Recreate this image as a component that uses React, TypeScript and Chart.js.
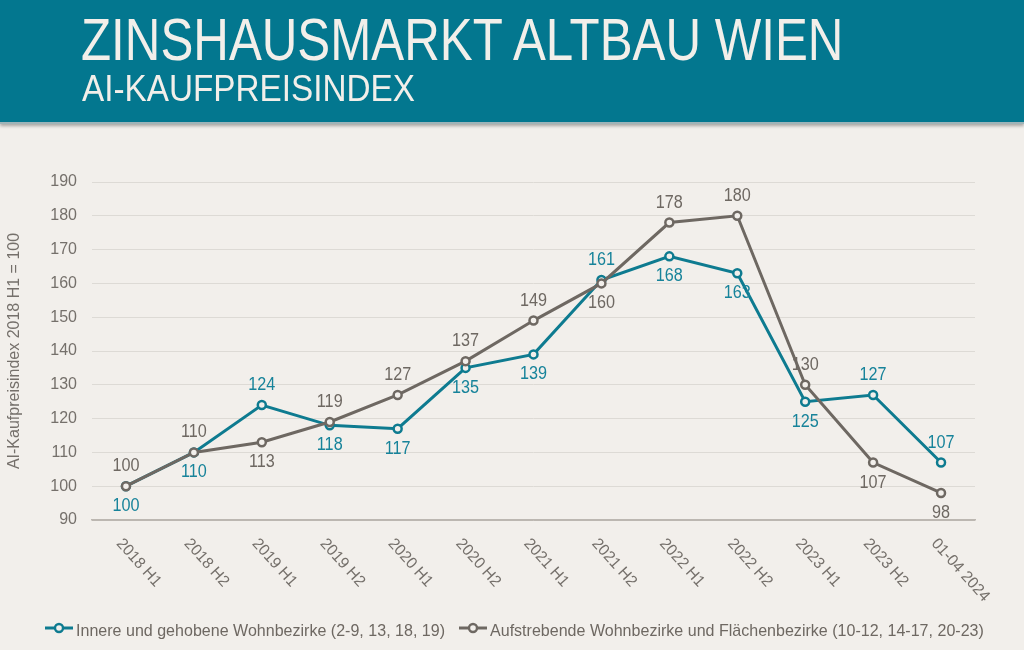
import React, { useEffect, useRef } from "react";
import { Chart, registerables } from "chart.js";

Chart.register(...registerables);

const categories = [
  "2018 H1", "2018 H2", "2019 H1", "2019 H2", "2020 H1", "2020 H2", "2021 H1",
  "2021 H2", "2022 H1", "2022 H2", "2023 H1", "2023 H2", "01-04 2024",
];
const innereValues = [100, 110, 124, 118, 117, 135, 139, 161, 168, 163, 125, 127, 107];
const aufstrebendeValues = [100, 110, 113, 119, 127, 137, 149, 160, 178, 180, 130, 107, 98];
const innereLabelSide = ["below", "below", "above", "below", "below", "below", "below", "above", "below", "below", "below", "above", "above"];
const aufstrebendeLabelSide = ["above", "above", "below", "above", "above", "above", "above", "below", "above", "above", "above", "below", "below"];
const seriesNames = [
  "Innere und gehobene Wohnbezirke (2-9, 13, 18, 19)",
  "Aufstrebende Wohnbezirke und Flächenbezirke (10-12, 14-17, 20-23)",
];
const yMin = 90;
const yMax = 190;
const yStep = 10;
const yTitle = "AI-Kaufpreisindex 2018 H1 = 100";
const title = "ZINSHAUSMARKT ALTBAU WIEN";
const subtitle = "AI-KAUFPREISINDEX";

const FAMILY = '"Liberation Sans", Arial, sans-serif';
const TEAL = "#0e7b90";
const TEAL_TEXT = "#17839a";
const GRAY = "#6e6862";
const BG = "#f2efeb";
const TEXT = "#75706b";

function measure(text: string, font: string) {
  const c = document.createElement("canvas").getContext("2d")!;
  c.font = font;
  return c.measureText(text).width;
}

function drawText(
  ctx: CanvasRenderingContext2D,
  text: string,
  x: number,
  y: number,
  size: number,
  color: string,
  align: CanvasTextAlign,
  scaleX = 1,
  rotate = 0
) {
  ctx.save();
  ctx.translate(x, y);
  if (rotate) ctx.rotate(rotate);
  ctx.scale(scaleX, 1);
  ctx.font = `${size}px ${FAMILY}`;
  ctx.fillStyle = color;
  ctx.textAlign = align;
  ctx.textBaseline = "middle";
  ctx.fillText(text, 0, 0);
  ctx.restore();
}

const valueLabelsPlugin = {
  id: "valueLabels",
  afterDatasetsDraw(chart: any) {
    const ctx = chart.ctx;
    chart.data.datasets.forEach((ds: any, d: number) => {
      const meta = chart.getDatasetMeta(d);
      const sides = ds.labelSides as string[];
      meta.data.forEach((pt: any, i: number) => {
        const dy = sides[i] === "above" ? -20 : 20;
        drawText(ctx, String(ds.data[i]), pt.x, pt.y + dy, 18, ds.labelColor, "center", 0.9);
      });
    });
  },
};

const xLabelsPlugin = {
  id: "xLabels",
  afterDraw(chart: any) {
    const ctx = chart.ctx;
    const xs = chart.scales.x;
    (chart.data.labels as string[]).forEach((lab, i) => {
      const x = xs.getPixelForValue(i);
      drawText(ctx, lab, x - 7, xs.top + 21, 16, TEXT, "left", 0.97, (48 * Math.PI) / 180);
    });
  },
};

const legendPlugin = {
  id: "customLegend",
  afterDraw(chart: any) {
    const ctx: CanvasRenderingContext2D = chart.ctx;
    const font = `17px ${FAMILY}`;
    ctx.save();
    ctx.font = font;
    const sx = 369 / ctx.measureText(chart.data.datasets[0].label).width;
    ctx.restore();
    let x = 45;
    const y = 629;
    chart.data.datasets.forEach((ds: any) => {
      ctx.save();
      ctx.strokeStyle = ds.borderColor;
      ctx.lineWidth = 3;
      ctx.beginPath();
      ctx.moveTo(x, y - 1);
      ctx.lineTo(x + 28, y - 1);
      ctx.stroke();
      ctx.beginPath();
      ctx.arc(x + 14, y - 1, 4, 0, Math.PI * 2);
      ctx.fillStyle = BG;
      ctx.fill();
      ctx.lineWidth = 2.4;
      ctx.stroke();
      ctx.font = font;
      const w = ctx.measureText(ds.label).width * sx;
      ctx.restore();
      drawText(ctx, ds.label, x + 31, y + 2, 17, GRAY, "left", sx);
      x += 31 + w + 14;
    });
  },
};

function FitText(props: { text: string; size: number; width: number; left: number; top: number }) {
  const font = `${props.size}px ${FAMILY}`;
  const sx = props.width / measure(props.text, font);
  return (
    <div
      style={{
        position: "absolute",
        left: props.left,
        top: props.top,
        fontFamily: FAMILY,
        fontSize: props.size,
        lineHeight: `${props.size}px`,
        color: "#f2efea",
        whiteSpace: "nowrap",
        transform: `scaleX(${sx})`,
        transformOrigin: "left top",
      }}
    >
      {props.text}
    </div>
  );
}

export default function App() {
  const ref = useRef<HTMLCanvasElement | null>(null);
  useEffect(() => {
    if (!ref.current) return;
    const chart = new Chart(ref.current, {
      type: "line",
      data: {
        labels: categories,
        datasets: [
          {
            label: seriesNames[0],
            data: innereValues,
            borderColor: TEAL,
            backgroundColor: BG,
            borderWidth: 3,
            pointRadius: 4,
            pointBorderWidth: 2.5,
            pointBackgroundColor: BG,
            order: 1,
            labelSides: innereLabelSide,
            labelColor: TEAL_TEXT,
          } as any,
          {
            label: seriesNames[1],
            data: aufstrebendeValues,
            borderColor: GRAY,
            backgroundColor: BG,
            borderWidth: 3,
            pointRadius: 4,
            pointBorderWidth: 2.5,
            pointBackgroundColor: BG,
            order: 0,
            labelSides: aufstrebendeLabelSide,
            labelColor: GRAY,
          } as any,
        ],
      },
      options: {
        responsive: false,
        animation: false,
        devicePixelRatio: 1,
        layout: { padding: { top: 182, right: 49, left: 0, bottom: 0 } },
        scales: {
          x: {
            type: "category",
            offset: true,
            grid: { display: false },
            border: { display: true, color: "#bcb7b1", width: 1.5 },
            ticks: { display: false },
            afterFit: (s: any) => {
              s.height = 130;
            },
          },
          y: {
            min: yMin,
            max: yMax,
            grid: {
              drawTicks: false,
              color: (c: any) => (c.tick && c.tick.value === yMin ? "#bcb7b1" : "#dddad5"),
              lineWidth: 1,
            },
            border: { display: false },
            ticks: {
              stepSize: yStep,
              padding: 15,
              color: TEXT,
              font: { family: FAMILY, size: 16 },
            },
            title: {
              display: true,
              text: yTitle,
              color: TEXT,
              font: { family: FAMILY, size: 16 },
              padding: { top: 5, bottom: 0 },
            },
            afterFit: (s: any) => {
              s.width = 92;
            },
          },
        },
        plugins: {
          tooltip: { enabled: false },
          legend: { display: false },
        },
      } as any,
      plugins: [valueLabelsPlugin, xLabelsPlugin, legendPlugin],
    });
    return () => chart.destroy();
  }, []);

  return (
    <div
      style={{
        position: "fixed",
        left: 0,
        top: 0,
        width: 1024,
        height: 650,
        background: BG,
        overflow: "hidden",
      }}
    >
      <canvas
        ref={ref}
        width={1024}
        height={650}
        style={{ position: "absolute", left: 0, top: 0, width: 1024, height: 650 }}
      />
      <div
        style={{
          position: "absolute",
          left: 0,
          top: 0,
          width: 1024,
          height: 124,
          background: "#03778f",
          boxShadow: "0 2px 3px rgba(0,0,0,0.3)",
          borderBottom: "2px solid #9fb4b8",
          boxSizing: "border-box",
        }}
      >
        <FitText text={title} size={60} width={766} left={81} top={10} />
        <FitText text={subtitle} size={37} width={333} left={82} top={70} />
      </div>
    </div>
  );
}
